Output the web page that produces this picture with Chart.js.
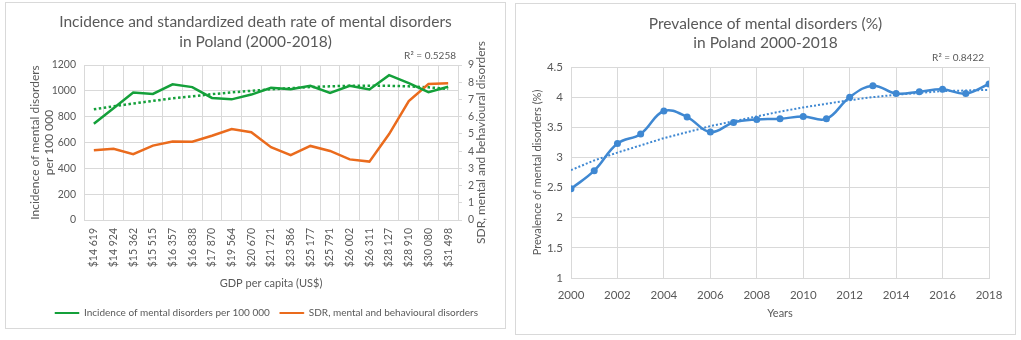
<!DOCTYPE html>
<html>
<head>
<meta charset="utf-8">
<script src="https://cdn.jsdelivr.net/npm/chart.js@4.4.1/dist/chart.umd.min.js"></script>
<style>
  body { margin: 0; background: #fff; }
  .panel { position: absolute; box-sizing: border-box; border: 1px solid #d9d9d9; background: #fff; }
  #p1 { left: 5px; top: 2px; width: 501px; height: 327px; }
  #p2 { left: 515px; top: 3px; width: 501px; height: 332px; }
</style>
</head>
<body>
<div class="panel" id="p1"><canvas id="incidenceChart"></canvas></div>
<div class="panel" id="p2"><canvas id="prevalenceChart"></canvas></div>
<script>
// left chart: GDP per capita categories
const gdpLabels = ["$14 619", "$14 924", "$15 362", "$15 515", "$16 357", "$16 838", "$17 870", "$19 564", "$20 670", "$21 721",
  "$23 586", "$25 177", "$25 791", "$26 002", "$26 311", "$28 127", "$28 910", "$30 080", "$31 498"];
const incidence = [745, 865, 987, 976, 1050, 1029, 945, 934, 971, 1024, 1013, 1039, 984, 1039, 1011, 1121, 1060, 990, 1032];
const incidenceTrend = [857, 880, 902, 922, 942, 958, 974, 988, 1000, 1012, 1021, 1029, 1035, 1039, 1040, 1039, 1035, 1027, 1015];
const sdr = [4.05, 4.13, 3.82, 4.32, 4.56, 4.54, 4.89, 5.28, 5.1, 4.23, 3.76, 4.3, 4.01, 3.52, 3.39, 4.99, 6.91, 7.9, 7.94];

// right chart: prevalence by year
const years = [2000, 2001, 2002, 2003, 2004, 2005, 2006, 2007, 2008, 2009, 2010, 2011, 2012, 2013, 2014, 2015, 2016, 2017, 2018];
const prevalence = [2.48, 2.78, 3.23, 3.39, 3.77, 3.67, 3.42, 3.58, 3.63, 3.64, 3.68, 3.64, 4.0, 4.19, 4.06, 4.09, 4.13, 4.06, 4.22];
const prevalenceTrend = [2.79, 2.95, 3.08, 3.2, 3.32, 3.42, 3.52, 3.6, 3.68, 3.76, 3.83, 3.89, 3.95, 4.0, 4.04, 4.07, 4.1, 4.11, 4.12];

const r2Left = "R² = 0.5258";
const r2Right = "R² = 0.8422";

const FONT = "Lato, 'Open Sans', sans-serif";
const TXT = "#595959";
const GRID = "#d9d9d9";
const GREEN = "#14a03a";
const ORANGE = "#ea6b1d";
const BLUE = "#3f88d2";

Chart.defaults.font.family = FONT;
Chart.defaults.color = TXT;
Chart.defaults.animation = false;

// titles centred on the panel, R² labels and the upward right axis title
const extras = {
  id: "extras",
  afterDraw(chart, args, opts) {
    const ctx = chart.ctx;
    const area = chart.chartArea;
    ctx.save();
    ctx.fillStyle = TXT;
    ctx.textBaseline = "middle";
    ctx.textAlign = "center";
    ctx.font = "15.5px " + FONT;
    opts.title.forEach((line, i) => ctx.fillText(line, chart.width / 2, opts.titleY[i]));
    ctx.font = "10px " + FONT;
    ctx.textAlign = "right";
    ctx.fillText(opts.r2, area.right + opts.r2dx, area.top - 9);
    if (opts.rightTitle) {
      const s = chart.scales.y1;
      ctx.translate(s.right - 24, (area.top + area.bottom) / 2);
      ctx.rotate(-Math.PI / 2);
      ctx.textAlign = "center";
      ctx.font = "12px " + FONT;
      ctx.fillText(opts.rightTitle, 0, 0);
    }
    ctx.restore();
  }
};

const plain = v => String(v);

new Chart(document.getElementById("incidenceChart"), {
  type: "line",
  data: {
    labels: gdpLabels,
    datasets: [{
      label: "Incidence of mental disorders per 100 000",
      data: incidence,
      borderColor: GREEN,
      backgroundColor: GREEN,
      borderWidth: 2.5,
      pointRadius: 0,
      yAxisID: "y"
    }, {
      label: "SDR, mental and behavioural disorders",
      data: sdr,
      borderColor: ORANGE,
      backgroundColor: ORANGE,
      borderWidth: 2.5,
      pointRadius: 0,
      yAxisID: "y1"
    }, {
      label: "trend",
      data: incidenceTrend,
      borderColor: GREEN,
      borderWidth: 2.5,
      borderDash: [2.5, 2.5],
      pointRadius: 0,
      yAxisID: "y"
    }]
  },
  options: {
    responsive: true,
    maintainAspectRatio: false,
    layout: { padding: { left: 22, right: 0, top: 62, bottom: 0 } },
    plugins: {
      legend: {
        position: "bottom",
        labels: {
          boxWidth: 24,
          boxHeight: 1,
          padding: 10,
          font: { size: 10 },
          filter: item => item.text !== "trend",
          generateLabels: chart => Chart.defaults.plugins.legend.labels.generateLabels(chart)
            .map(item => Object.assign(item, { lineWidth: 1 }))
        }
      },
      tooltip: { enabled: false },
      extras: {
        title: ["Incidence and standardized death rate of mental disorders", "in Poland (2000-2018)"],
        titleY: [19, 39],
        r2: r2Left, r2dx: -2,
        rightTitle: "SDR, mental and behavioural disorders"
      }
    },
    scales: {
      x: {
        offset: true,
        grid: { offset: true, color: GRID, drawTicks: false },
        border: { color: GRID },
        ticks: { minRotation: 90, maxRotation: 90, autoSkip: false, font: { size: 10.5 }, padding: 8 },
        title: { display: true, text: "GDP per capita (US$)", font: { size: 11 }, padding: { top: 2, bottom: 8 } },
        afterFit: s => { s.height = 78; }
      },
      y: {
        min: 0, max: 1200,
        ticks: { stepSize: 200, font: { size: 10.5 }, padding: 8, callback: plain },
        grid: { color: GRID, drawTicks: false },
        border: { color: GRID },
        title: { display: true, text: ["Incidence of mental disorders", "per 100 000"], font: { size: 12 }, lineHeight: 1.3, padding: 0 },
        afterFit: s => { s.width = 56; }
      },
      y1: {
        position: "right",
        min: 0, max: 9,
        ticks: { stepSize: 1, autoSkip: false, font: { size: 10.5 }, padding: 6, callback: plain },
        grid: { drawOnChartArea: false, color: GRID, tickLength: 4 },
        border: { color: GRID },
        afterFit: s => { s.width = 47; }
      }
    }
  },
  plugins: [extras]
});

new Chart(document.getElementById("prevalenceChart"), {
  type: "line",
  data: {
    datasets: [{
      label: "Prevalence",
      data: years.map((yr, i) => ({ x: yr, y: prevalence[i] })),
      borderColor: BLUE,
      backgroundColor: BLUE,
      borderWidth: 2.5,
      pointRadius: 3.5,
      pointBorderWidth: 0,
      tension: 0.4
    }, {
      label: "trend",
      data: years.map((yr, i) => ({ x: yr, y: prevalenceTrend[i] })),
      borderColor: BLUE,
      borderWidth: 2,
      borderDash: [2, 2],
      pointRadius: 0
    }]
  },
  options: {
    responsive: true,
    maintainAspectRatio: false,
    layout: { padding: { left: 15, right: 26, top: 63, bottom: 14 } },
    plugins: {
      legend: { display: false },
      tooltip: { enabled: false },
      extras: {
        title: ["Prevalence of mental disorders (%)", "in Poland 2000-2018"],
        titleY: [20, 39],
        r2: r2Right, r2dx: -5
      }
    },
    scales: {
      x: {
        type: "linear",
        min: 2000, max: 2018,
        ticks: { stepSize: 2, font: { size: 11.5 }, padding: 10, callback: plain },
        grid: { color: GRID, drawTicks: false },
        border: { color: GRID },
        title: { display: true, text: "Years", font: { size: 11 }, padding: { top: 4, bottom: 0 } },
        afterFit: s => { s.height = 42; }
      },
      y: {
        min: 1, max: 4.5,
        ticks: { stepSize: 0.5, font: { size: 11.5 }, padding: 8, callback: plain },
        grid: { color: GRID, drawTicks: false },
        border: { color: GRID },
        title: { display: true, text: "Prevalence of mental disorders (%)", font: { size: 11 }, padding: 0 },
        afterFit: s => { s.width = 40; }
      }
    }
  },
  plugins: [extras]
});
</script>
</body>
</html>
